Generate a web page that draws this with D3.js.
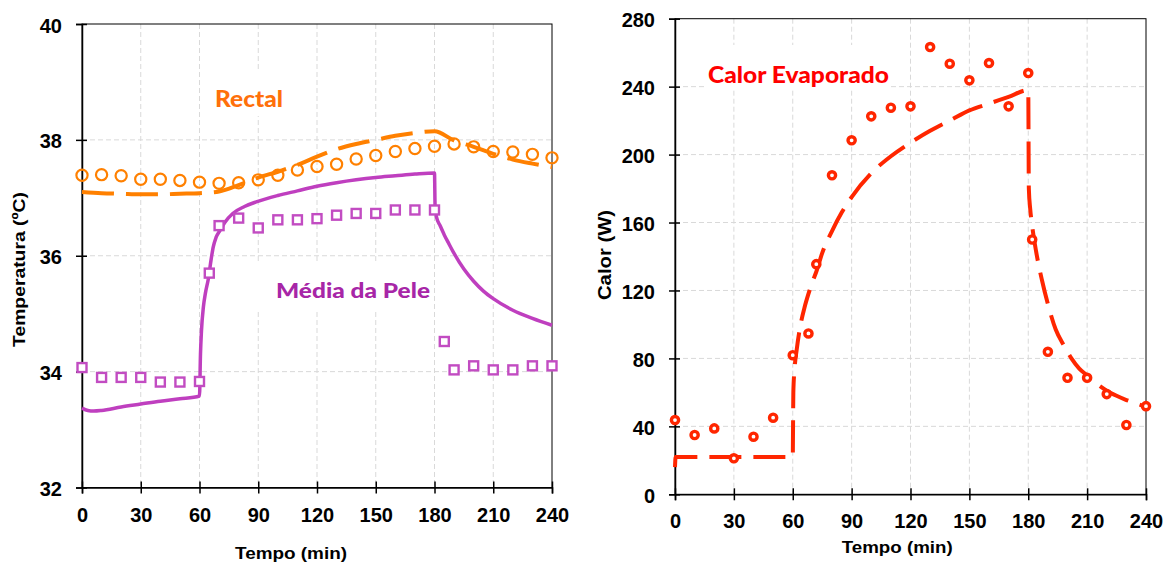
<!DOCTYPE html>
<html><head><meta charset="utf-8">
<script src="https://cdn.jsdelivr.net/npm/d3@7"></script>
<style>body{margin:0;background:#fff} svg{display:block}</style>
</head><body>
<svg id="chart" width="1172" height="565"></svg>
<script>
// ---------- data ----------
const timeTicks = [0, 30, 60, 90, 120, 150, 180, 210, 240];
const tempTicks = [32, 34, 36, 38, 40];
const heatTicks = [0, 40, 80, 120, 160, 200, 240, 280];

const rectalTime = [0,10,20,30,40,50,60,70,80,90,100,110,120,130,140,150,160,170,180,190,200,210,220,230,240];
const rectalMeasured = [37.39,37.40,37.38,37.32,37.32,37.30,37.27,37.25,37.26,37.31,37.39,37.48,37.54,37.58,37.67,37.73,37.80,37.85,37.89,37.93,37.88,37.80,37.79,37.75,37.69];
const rectalModel = [37.10,37.08,37.07,37.06,37.06,37.07,37.08,37.11,37.22,37.35,37.45,37.57,37.71,37.84,37.93,38.00,38.07,38.12,38.15,37.99,37.88,37.76,37.66,37.59,37.53];

const skinMeasuredTime = [0,10,20,30,40,50,60,65,70,80,90,100,110,120,130,140,150,160,170,180,185,190,200,210,220,230,240];
const skinMeasured = [34.07,33.90,33.90,33.90,33.82,33.82,33.83,35.70,36.52,36.65,36.48,36.62,36.62,36.64,36.70,36.73,36.73,36.79,36.79,36.79,34.52,34.03,34.10,34.03,34.03,34.10,34.10];
const skinModelTime = [0,3,6,10,20,30,40,50,60,60.5,61,62,63,64.5,66,67,68.5,70.5,73,77,83,89,100,110,120,130,140,150,160,170,180,180.3,181,183,185,187,190,195,200,205,210,220,230,240];
const skinModel = [33.37,33.33,33.32,33.33,33.39,33.44,33.49,33.53,33.58,34.30,34.70,35.12,35.35,35.60,35.95,36.15,36.32,36.44,36.58,36.73,36.85,36.93,37.04,37.12,37.20,37.26,37.31,37.35,37.38,37.41,37.43,36.85,36.67,36.51,36.36,36.23,36.04,35.77,35.56,35.39,35.26,35.06,34.92,34.80];

const heatMeasuredTime = [0,10,20,30,40,50,60,68,72,80,90,100,110,120,130,140,150,160,170,180,182,190,200,210,220,230,240];
const heatMeasured = [43.7,34.9,38.8,21.2,33.9,45.1,81.9,94.7,135.5,187.8,208.4,222.5,227.6,228.4,263.3,253.5,243.7,253.9,228.4,248.0,150.0,83.9,68.6,68.6,59.0,40.8,51.9];
const heatModelTime = [0,0.3,10,20,30,40,50,60,60.3,61,62,64,66,68,70,72,75,80,85,90,100,110,120,130,140,150,160,170,180,180.3,181,182,184,187,190,194,198,202,206,210,215,220,225,230,235,240];
const heatModel = [16,22,22,22,22,22,22,22,60,75,85,100,110,118,125,131,142,155,166,175,189,199,207,214,220,226,230,234,238,180,168,158,143,126,112,97,88,80,74,70,65,61,58,55.5,53.5,51.5];

// ---------- drawing ----------
const svg = d3.select('#chart');
const TICK_FONT = '"Liberation Sans", Arial, sans-serif';
const LABEL_FONT = 'Lato, Carlito, Calibri, sans-serif';

function panel(o) {
  const x = d3.scaleLinear().domain([0, 240]).range([o.left, o.right]);
  const y = d3.scaleLinear().domain(o.yDomain).range([o.bottom, o.top]);
  const g = svg.append('g');

  // grid
  const gx = timeTicks.slice(1, -1), gy = o.yTicks.slice(1, -1);
  g.append('g').selectAll('line').data(gx).join('line')
    .attr('x1', d => x(d)).attr('x2', d => x(d)).attr('y1', o.top).attr('y2', o.bottom)
    .attr('stroke', '#d9d9d9').attr('stroke-width', 1).attr('stroke-dasharray', '5,3');
  g.append('g').selectAll('line').data(gy).join('line')
    .attr('y1', d => y(d)).attr('y2', d => y(d)).attr('x1', o.left).attr('x2', o.right)
    .attr('stroke', '#d9d9d9').attr('stroke-width', 1).attr('stroke-dasharray', '5,3');

  // label boxes
  o.labels.forEach(l => {
    g.append('rect').attr('x', l.box[0]).attr('y', l.box[1]).attr('width', l.box[2]).attr('height', l.box[3]).attr('fill', '#fff');
  });

  // frame
  g.append('rect').attr('x', o.left).attr('y', o.top).attr('width', o.right - o.left).attr('height', o.bottom - o.top)
    .attr('fill', 'none').attr('stroke', '#000').attr('stroke-width', 1);

  // axes
  const ax = g.append('g').attr('transform', `translate(0,${o.bottom})`)
    .call(d3.axisBottom(x).tickValues(timeTicks).tickSize(6).tickPadding(0));
  ax.select('.domain').attr('stroke-width', 1.5);
  ax.selectAll('.tick line').attr('y1', -6).attr('y2', 6).attr('stroke-width', 1.5);
  ax.selectAll('.tick text').attr('y', 34.2).attr('dy', null)
    .attr('font-family', TICK_FONT).attr('font-weight', 'bold').attr('font-size', 20).attr('fill', '#000');

  const ay = g.append('g').attr('transform', `translate(${o.left},0)`)
    .call(d3.axisLeft(y).tickValues(o.yTicks).tickSize(6).tickPadding(0));
  ay.select('.domain').attr('stroke-width', 1.5);
  ay.selectAll('.tick line').attr('x1', 5).attr('x2', -6).attr('stroke-width', 1.5);
  ay.selectAll('.tick text').attr('x', -20).attr('dy', null).attr('y', 8)
    .attr('font-family', TICK_FONT).attr('font-weight', 'bold').attr('font-size', 20).attr('fill', '#000');
  g.selectAll('.domain').attr('stroke', '#000');

  // titles
  g.append('text').attr('x', o.xTitle[0]).attr('y', o.xTitle[1]).attr('textLength', o.xTitle[2]).attr('lengthAdjust', 'spacingAndGlyphs')
    .attr('font-family', TICK_FONT).attr('font-weight', 'bold').attr('font-size', 17).text('Tempo (min)');
  g.append('text').attr('transform', `translate(${o.yTitle[0]},${o.yTitle[1]}) rotate(-90)`)
    .attr('text-anchor', 'middle').attr('textLength', o.yTitle[2]).attr('lengthAdjust', 'spacingAndGlyphs')
    .attr('font-family', TICK_FONT).attr('font-weight', 'bold').attr('font-size', o.yTitle[4]).text(o.yTitle[3]);

  // labels
  o.labels.forEach(l => {
    g.append('text').attr('x', l.x).attr('y', l.y).attr('textLength', l.w).attr('lengthAdjust', 'spacingAndGlyphs')
      .attr('font-family', LABEL_FONT).attr('font-weight', 900).attr('font-size', l.size).attr('fill', l.color).text(l.text);
  });
  return {g, x, y};
}

// ---- left panel ----
const L = panel({
  left: 82, right: 552, top: 24, bottom: 487.5, yDomain: [32, 40], yTicks: tempTicks,
  xTitle: [235, 559, 112], yTitle: [25, 269.5, 155, 'Temperatura (ºC)', 17],
  labels: [
    {text: 'Rectal', x: 215, y: 107.3, w: 68, size: 22, color: '#ff700a', box: [211, 69, 76, 47]},
    {text: 'Média da Pele', x: 276, y: 298.3, w: 154, size: 21, color: '#a726a7', box: [250, 262, 182, 48]}
  ]
});
{
  const {g, x, y} = L;
  g.append('path').datum(d3.zip(rectalTime, rectalModel))
    .attr('d', d3.line().x(d => x(d[0])).y(d => y(d[1])).curve(d3.curveMonotoneX))
    .attr('fill', 'none').attr('stroke', '#ff8000').attr('stroke-width', 4).attr('stroke-dasharray', '32,12');
  g.append('path').datum(d3.zip(skinModelTime, skinModel))
    .attr('d', d3.line().x(d => x(d[0])).y(d => y(d[1])).curve(d3.curveMonotoneX))
    .attr('fill', 'none').attr('stroke', '#bf3fbf').attr('stroke-width', 3.5);
  g.append('g').selectAll('circle').data(d3.zip(rectalTime, rectalMeasured)).join('circle')
    .attr('cx', d => x(d[0])).attr('cy', d => y(d[1])).attr('r', 5.6)
    .attr('fill', 'none').attr('stroke', '#ff8000').attr('stroke-width', 2.2);
  g.append('g').selectAll('rect').data(d3.zip(skinMeasuredTime, skinMeasured)).join('rect')
    .attr('x', d => x(d[0]) - 4.5).attr('y', d => y(d[1]) - 4.5).attr('width', 9).attr('height', 9)
    .attr('fill', '#fff').attr('stroke', '#c24cc2').attr('stroke-width', 2.4);
}

// ---- right panel ----
const R = panel({
  left: 675, right: 1146, top: 18.7, bottom: 494.3, yDomain: [0, 280], yTicks: heatTicks,
  xTitle: [841.7, 553, 111], yTitle: [611, 255, 90, 'Calor (W)', 18],
  labels: [
    {text: 'Calor Evaporado', x: 708, y: 83.3, w: 181, size: 22, color: '#ff0000', box: [705, 45, 185, 45]}
  ]
});
{
  const {g, x, y} = R;
  g.append('path').datum(d3.zip(heatModelTime, heatModel))
    .attr('d', d3.line().x(d => x(d[0])).y(d => y(d[1])).curve(d3.curveMonotoneX))
    .attr('fill', 'none').attr('stroke', '#ff2600').attr('stroke-width', 4).attr('stroke-dasharray', '32,12');
  g.append('g').selectAll('circle').data(d3.zip(heatMeasuredTime, heatMeasured)).join('circle')
    .attr('cx', d => x(d[0])).attr('cy', d => y(d[1])).attr('r', 3.6)
    .attr('fill', '#fff').attr('stroke', '#ff2600').attr('stroke-width', 3.4);
}
</script>
</body></html>
